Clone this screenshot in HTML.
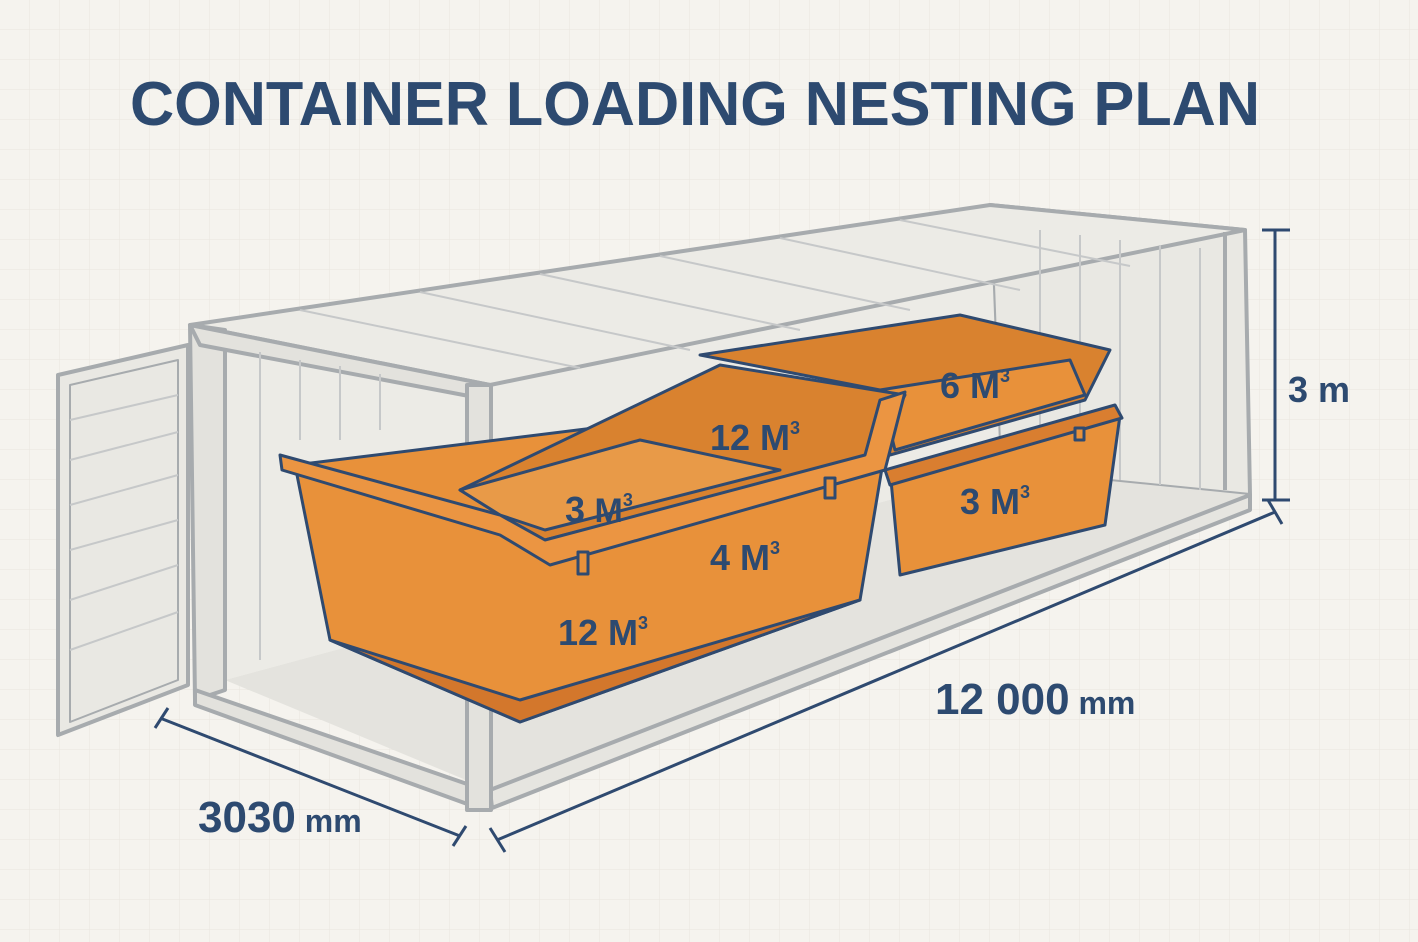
<!DOCTYPE html>
<html><head><meta charset="utf-8"><style>
html,body{margin:0;padding:0;width:1418px;height:942px;overflow:hidden;background:#f5f3ee;}
svg{display:block}
text{font-family:"Liberation Sans",sans-serif;font-weight:bold;fill:#2d4a70}
</style></head><body>
<svg width="1418" height="942" viewBox="0 0 1418 942" xmlns="http://www.w3.org/2000/svg">
<defs>
<pattern id="g" width="30" height="30" patternUnits="userSpaceOnUse"><path d="M30 0V30H0" fill="none" stroke="#e9e6df" stroke-width="1"/></pattern>
</defs>
<rect width="1418" height="942" fill="#f5f3ee"/>
<rect width="1418" height="942" fill="url(#g)"/>
<text x="695" y="125" font-size="62" text-anchor="middle" textLength="1130" lengthAdjust="spacingAndGlyphs">CONTAINER LOADING NESTING PLAN</text>

<g stroke="#a7abae" stroke-width="4" stroke-linejoin="round">
<!-- back/right end wall -->
<polygon points="990,205 1245,230 1250,495 1000,470" fill="#e9e8e3"/>
<!-- floor -->
<polygon points="225,680 1000,470 1250,495 490,790" fill="#e4e3de" stroke="none"/>
<!-- interior left (back long) wall -->
<polygon points="225,345 990,210 1000,470 225,680" fill="#ecebe6" stroke="none"/>
<!-- roof -->
<polygon points="190,325 990,205 1245,230 490,385" fill="#ecebe6"/>
<!-- front near bottom rail -->
<polygon points="490,790 1250,495 1250,510 492,808" fill="#e6e5e0"/>
<!-- front end frame -->
<polygon points="190,325 225,330 225,690 195,700" fill="#e3e2dd"/>
<polygon points="190,325 490,385 490,400 200,345" fill="#e3e2dd"/>
<polygon points="195,690 470,785 470,805 195,705" fill="#e3e2dd"/>
<rect x="467" y="385" width="24" height="425" fill="#e3e2dd"/>
<line x1="1225" y1="232" x2="1225" y2="490"/>
<!-- door -->
<polygon points="58,375 188,345 188,685 58,735" fill="#e9e8e3"/>
<polygon points="70,385 178,360 178,680 70,722" fill="none" stroke-width="2"/>
</g>
<g stroke="#c6c8c9" stroke-width="2">
<line x1="70" y1="420" x2="178" y2="395"/><line x1="70" y1="460" x2="178" y2="432"/>
<line x1="70" y1="505" x2="178" y2="475"/><line x1="70" y1="550" x2="178" y2="520"/>
<line x1="70" y1="600" x2="178" y2="565"/><line x1="70" y1="650" x2="178" y2="612"/>
<line x1="260" y1="352" x2="260" y2="660"/><line x1="300" y1="360" x2="300" y2="440"/>
<line x1="340" y1="366" x2="340" y2="440"/><line x1="380" y1="374" x2="380" y2="430"/>
<line x1="1040" y1="230" x2="1040" y2="470"/><line x1="1080" y1="235" x2="1080" y2="475"/>
<line x1="1120" y1="240" x2="1120" y2="480"/><line x1="1160" y1="245" x2="1160" y2="485"/>
<line x1="1200" y1="248" x2="1200" y2="490"/>
<line x1="300" y1="310" x2="580" y2="368"/><line x1="420" y1="292" x2="690" y2="350"/>
<line x1="540" y1="274" x2="800" y2="330"/><line x1="660" y1="256" x2="910" y2="310"/>
<line x1="780" y1="238" x2="1020" y2="290"/><line x1="900" y1="220" x2="1130" y2="266"/>
</g>

<g stroke="#2f4a70" stroke-width="3" stroke-linejoin="round">
<!-- back skips: 6M3 over 3M3 -->
<polygon points="890,470 1120,415 1105,525 900,575" fill="#e8913a"/>
<polygon points="885,470 1115,405 1122,418 890,485" fill="#d97e30"/>
<polygon points="700,355 960,315 1110,350 1085,400 890,455 880,390" fill="#d9822f"/>
<polygon points="880,390 1070,360 1085,395 895,450" fill="#e8913a"/>
<!-- front big skip body -->
<polygon points="295,465 860,395 890,420 860,600 520,722 330,640" fill="#e8913a"/>
<polygon points="330,640 520,722 860,600 520,700" fill="#d3772c"/>
<!-- inner -->
<polygon points="460,490 720,365 905,395 875,455 545,540 500,515" fill="#d9822f"/>
<polygon points="460,490 640,440 780,470 545,530 500,515" fill="#e89a48"/>
<!-- rim -->
<polygon points="280,455 500,515 545,540 865,455 880,400 905,392 885,470 550,565 500,535 282,470" fill="#eb9542"/>
<rect x="578" y="552" width="10" height="22" fill="#e8913a"/>
<rect x="825" y="478" width="10" height="20" fill="#e8913a"/>
<rect x="1075" y="428" width="9" height="12" fill="#e8913a"/>
</g>
<g font-size="36">
<text x="565" y="522">3<tspan font-size="34"> M</tspan><tspan font-size="18" dy="-16">3</tspan></text>
<text x="710" y="450">12<tspan> M</tspan><tspan font-size="18" dy="-16">3</tspan></text>
<text x="940" y="398">6<tspan> M</tspan><tspan font-size="18" dy="-16">3</tspan></text>
<text x="960" y="514">3<tspan> M</tspan><tspan font-size="18" dy="-16">3</tspan></text>
<text x="710" y="570">4<tspan> M</tspan><tspan font-size="18" dy="-16">3</tspan></text>
<text x="558" y="645">12<tspan> M</tspan><tspan font-size="18" dy="-16">3</tspan></text>
</g>

<g stroke="#2f4a70" stroke-width="3">
<line x1="1275" y1="230" x2="1275" y2="500"/>
<line x1="1262" y1="230" x2="1290" y2="230"/><line x1="1262" y1="500" x2="1290" y2="500"/>
<line x1="497" y1="840" x2="1275" y2="512"/>
<line x1="490" y1="828" x2="505" y2="852"/><line x1="1268" y1="500" x2="1282" y2="524"/>
<line x1="160" y1="718" x2="460" y2="836"/>
<line x1="155" y1="728" x2="168" y2="708"/><line x1="453" y1="846" x2="466" y2="826"/>
</g>
<text x="1288" y="402" font-size="36">3 m</text>
<text x="935" y="714" font-size="44">12 000<tspan font-size="32"> mm</tspan></text>
<text x="198" y="832" font-size="44">3030<tspan font-size="32"> mm</tspan></text>
</svg>
</body></html>
